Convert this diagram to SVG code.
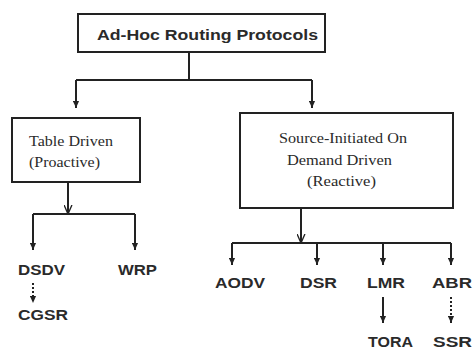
<svg xmlns="http://www.w3.org/2000/svg" width="473" height="349" viewBox="0 0 473 349">
<style>
.box{fill:#fff;stroke:#222;stroke-width:2}
.ln{fill:none;stroke:#222;stroke-width:2}
.dot{fill:none;stroke:#222;stroke-width:2;stroke-dasharray:2 2}
.sans{font-family:"Liberation Sans",Arial,sans-serif;font-weight:bold;font-size:14px;fill:#2a2a2a}
.serif{font-family:"Liberation Serif","Times New Roman",serif;font-size:15px;fill:#2a2a2a}
</style>
<defs>
<marker id="arr" viewBox="0 0 8 8" refX="8" refY="4" markerWidth="7" markerHeight="7" orient="auto" markerUnits="userSpaceOnUse">
<path d="M0,0.5 L8,4 L0,7.5 z" fill="#222"/>
</marker>
<marker id="open" viewBox="0 0 8 8" refX="8" refY="4" markerWidth="9" markerHeight="9" orient="auto" markerUnits="userSpaceOnUse">
<path d="M0,0.5 L8,4 L0,7.5" fill="none" stroke="#222" stroke-width="1.2"/>
</marker>
</defs>
<g id="connectors">
<path class="ln" d="M189,52 V80 M76,80 H312"/>
<path class="ln" d="M76,80 V108" marker-end="url(#arr)"/>
<path class="ln" d="M312,80 V108" marker-end="url(#arr)"/>
<path class="ln" d="M68,182 V214" marker-end="url(#open)"/>
<path class="ln" d="M33,214 H135"/>
<path class="ln" d="M33,214 V250" marker-end="url(#arr)"/>
<path class="ln" d="M135,214 V250" marker-end="url(#arr)"/>
<path class="dot" d="M33,283 V303" marker-end="url(#arr)"/>
<path class="ln" d="M301,208 V243" marker-end="url(#open)"/>
<path class="ln" d="M232,243 H451"/>
<path class="ln" d="M232,243 V265" marker-end="url(#arr)"/>
<path class="ln" d="M317,243 V265" marker-end="url(#arr)"/>
<path class="ln" d="M383,243 V265" marker-end="url(#arr)"/>
<path class="ln" d="M451,243 V265" marker-end="url(#arr)"/>
<path class="ln" d="M383,297 V323" marker-end="url(#arr)"/>
<path class="dot" d="M451,297 V323" marker-end="url(#arr)"/>
</g>
<g id="root">
<rect class="box" x="78" y="14" width="247" height="38"/>
<text class="sans" x="97" y="40" textLength="221" lengthAdjust="spacingAndGlyphs">Ad-Hoc Routing Protocols</text>
</g>
<g id="table-driven">
<rect class="box" x="12" y="118" width="128" height="64"/>
<text class="serif" x="29" y="146" textLength="84" lengthAdjust="spacingAndGlyphs">Table Driven</text>
<text class="serif" x="29" y="167" textLength="71" lengthAdjust="spacingAndGlyphs">(Proactive)</text>
</g>
<g id="source-initiated">
<rect class="box" x="240" y="113" width="213" height="95"/>
<text class="serif" x="279" y="143" textLength="128" lengthAdjust="spacingAndGlyphs">Source-Initiated On</text>
<text class="serif" x="287" y="165" textLength="105" lengthAdjust="spacingAndGlyphs">Demand Driven</text>
<text class="serif" x="307" y="186" textLength="69" lengthAdjust="spacingAndGlyphs">(Reactive)</text>
</g>
<g id="dsdv"><text class="sans" x="18" y="275" textLength="47" lengthAdjust="spacingAndGlyphs">DSDV</text></g>
<g id="wrp"><text class="sans" x="118" y="275" textLength="39" lengthAdjust="spacingAndGlyphs">WRP</text></g>
<g id="cgsr"><text class="sans" x="18" y="320" textLength="50" lengthAdjust="spacingAndGlyphs">CGSR</text></g>
<g id="aodv"><text class="sans" x="215" y="288" textLength="50" lengthAdjust="spacingAndGlyphs">AODV</text></g>
<g id="dsr"><text class="sans" x="300" y="288" textLength="37" lengthAdjust="spacingAndGlyphs">DSR</text></g>
<g id="lmr"><text class="sans" x="367" y="288" textLength="38" lengthAdjust="spacingAndGlyphs">LMR</text></g>
<g id="abr"><text class="sans" x="432" y="288" textLength="40" lengthAdjust="spacingAndGlyphs">ABR</text></g>
<g id="tora"><text class="sans" x="368" y="347" textLength="45" lengthAdjust="spacingAndGlyphs">TORA</text></g>
<g id="ssr"><text class="sans" x="433" y="347" textLength="39" lengthAdjust="spacingAndGlyphs">SSR</text></g>
</svg>
